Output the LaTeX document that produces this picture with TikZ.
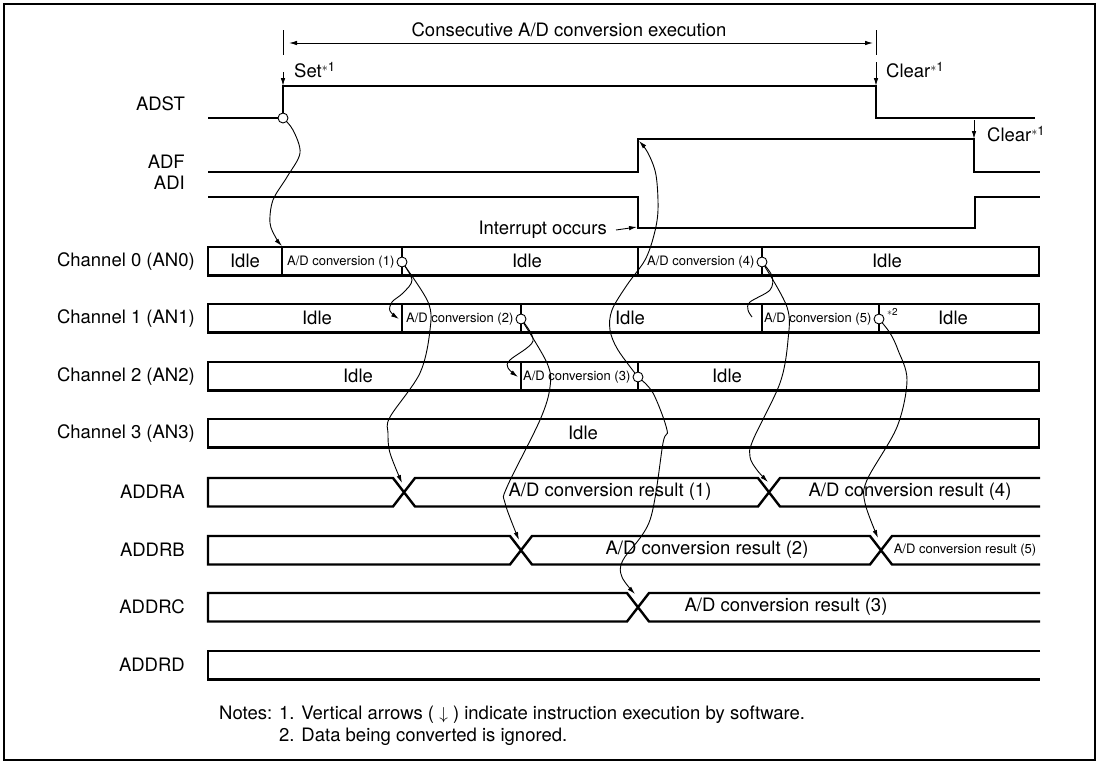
\documentclass[tikz,border=0pt]{standalone}
\usepackage{fontspec}
\setmainfont{TeX Gyre Heros}
\usetikzlibrary{arrows.meta,positioning,math}

\tikzset{
 sig/.style={line width=2.4pt},
 wire/.style={line width=0.9pt,-{Latex[length=8pt,width=4.5pt]}},
 bare/.style={line width=0.9pt},
 dot/.style={circle,draw,fill=white,line width=0.9pt,inner sep=0pt,minimum size=10pt},
 big/.style={font=\fontsize{18.5}{22}\selectfont,inner sep=1pt},
 small/.style={font=\fontsize{13}{15}\selectfont,inner sep=1pt},
 idle/.style={big,fill=white},
}

\begin{document}
\begin{tikzpicture}[x=1pt,y=-1pt]

\useasboundingbox (0,0) rectangle (1100,764);
\draw[line width=2.5pt] (4,4) rectangle (1095,760);

\tikzmath{
\xl = 208;
\xr = 1040;
\h = 28.5;
}

%circles and arrow ends
\coordinate (s0) at (283,118);
\coordinate (c1) at (402,262);
\coordinate (c2) at (521,319);
\coordinate (c3) at (638,377);
\coordinate (c4) at (762,262);
\coordinate (c5) at (879,319);

\coordinate (t0) at (282,246);
\coordinate (t1) at (399,319);
\coordinate (t2) at (402,483);
\coordinate (t3) at (518,377);
\coordinate (t4) at (519,540);
\coordinate (t5) at (639,141);
\coordinate (t6) at (635,594);
\coordinate (e1) at (752,317);
\coordinate (t7) at (768,482);
\coordinate (t8) at (878,538);

%curved arrows
\draw[wire] plot [smooth,tension=0.55] coordinates {(s0) (293,130) (300,153) (287,177) (273,200) (270,223) (276,238) (t0)};
\draw[wire] plot [smooth,tension=0.55] coordinates {(c1) (412,280) (403,293) (392,302) (390,311) (t1)};
\draw[wire] plot [smooth,tension=0.55] coordinates {(c1) (428,302) (430,330) (420,373) (390,417) (388,433) (390,453) (t2)};
\draw[wire] plot [smooth,tension=0.55] coordinates {(c2) (533,341) (510,360) (508,368) (t3)};
\draw[wire] plot [smooth,tension=0.55] coordinates {(c2) (547,363) (550,387) (540,420) (507,487) (505,503) (t4)};
\draw[wire] plot [smooth,tension=0.55] coordinates {(c3) (618,350) (610,330) (612,310) (627,285) (645,260) (654,235) (658,210) (656,175) (648,153) (t5)};
\draw[wire] plot [smooth,tension=0.55] coordinates {(c3) (653,393) (667,430) (663,443) (650,520) (623,560) (622,577) (t6)};
\draw[bare] plot [smooth,tension=0.55] coordinates {(c4) (772,276) (770,290) (750,302) (748,310) (e1)};
\draw[wire] plot [smooth,tension=0.55] coordinates {(c4) (787,307) (788,340) (780,383) (753,440) (750,457) (757,470) (t7)};
\draw[wire] plot [smooth,tension=0.55] coordinates {(c5) (890,333) (898,350) (907,380) (897,427) (867,480) (865,503) (t8)};

%ADST, ADF, ADI
\draw[sig] (\xl,118) -- (283,118) -- (283,86) -- (876,86) -- (876,118) -- (1035,118);
\draw[sig] (\xl,172) -- (638,172) -- (638,139) -- (974,139) -- (974,172) -- (\xr,172);
\draw[sig] (\xl,197) -- (638,197) -- (638,228) -- (975,228) -- (975,197) -- (\xr,197);

%channels
\foreach \t in {247,304,362,419}
  \draw[sig] (\xl,\t) rectangle (1039,\t+\h);
\foreach \x in {282,402,638,762}
  \draw[sig] (\x,247) -- ++(0,\h);
\foreach \x in {402,521,762,879}
  \draw[sig] (\x,304) -- ++(0,\h);
\foreach \x in {521,638}
  \draw[sig] (\x,362) -- ++(0,\h);

%result registers
\draw[sig] (\xr,478) -- (780,478) -- (758,506.5) -- (415,506.5) -- (393,478) -- (\xl,478) -- (\xl,506.5) -- (393,506.5) -- (415,478) -- (758,478) -- (780,506.5) -- (\xr,506.5);
\draw[sig] (\xr,536) -- (892,536) -- (870,564.5) -- (532,564.5) -- (510,536) -- (\xl,536) -- (\xl,564.5) -- (510,564.5) -- (532,536) -- (870,536) -- (892,564.5) -- (\xr,564.5);
\draw[sig] (\xr,593) -- (649,593) -- (627,621.5) -- (\xl,621.5) -- (\xl,593) -- (627,593) -- (649,621.5) -- (\xr,621.5);
\draw[sig] (\xr,651) -- (\xl,651) -- (\xl,679.5) -- (\xr,679.5);

\node[dot] (o0) at (s0) {};
\node[dot] (o1) at (c1) {};
\node[dot] (o2) at (c2) {};
\node[dot] (o3) at (c3) {};
\node[dot] (o4) at (c4) {};
\node[dot] (o5) at (c5) {};

%signal names
\node[big,anchor=east] (nadst) at (186,104) {ADST};
\node[big,anchor=east] (nadf) at (186,162) {ADF};
\node[big,anchor=east] (nadi) at (186,183) {ADI};
\node[big,anchor=east] (nch0) at (196,262) {Channel 0 (AN0)};
\node[big,anchor=east] (nch1) at (196,319) {Channel 1 (AN1)};
\node[big,anchor=east] (nch2) at (196,377) {Channel 2 (AN2)};
\node[big,anchor=east] (nch3) at (196,434) {Channel 3 (AN3)};
\node[big,anchor=east] (nra) at (186,492) {ADDRA};
\node[big,anchor=east] (nrb) at (186,550) {ADDRB};
\node[big,anchor=east] (nrc) at (186,607) {ADDRC};
\node[big,anchor=east] (nrd) at (186,665) {ADDRD};

%box texts
\node[idle] (i00) at (245,261) {Idle};
\node[idle] (i01) at (527,261) {Idle};
\node[idle] (i02) at (887,261) {Idle};
\node[idle] (i10) at (317,318) {Idle};
\node[idle] (i11) at (630,318) {Idle};
\node[idle] (i12) at (953,318) {Idle};
\node[idle] (i20) at (358,376) {Idle};
\node[idle] (i21) at (727,376) {Idle};
\node[idle] (i30) at (583,433) {Idle};

\node[small,left=1pt of o1] (v1) {A/D conversion (1)};
\node[small,left=1pt of o2] (v2) {A/D conversion (2)};
\node[small,left=1pt of o3] (v3) {A/D conversion (3)};
\node[small,left=1pt of o4] (v4) {A/D conversion (4)};
\node[small,left=1pt of o5] (v5) {A/D conversion (5)};
\node[font=\fontsize{10}{12}\selectfont,inner sep=0pt,anchor=west] (ast) at (887,312) {$\ast$2};

\node[big] (r1) at (610,492) {A/D conversion result (1)};
\node[big] (r4) at (910,492) {A/D conversion result (4)};
\node[big] (r2) at (707,550) {A/D conversion result (2)};
\node[small] (r5) at (965,550) {A/D conversion result (5)};
\node[big] (r3) at (786,607) {A/D conversion result (3)};

%top: execution span and software arrows
\coordinate (dl) at (289,43);
\coordinate (dr) at (873,43);
\draw[bare] (283,30) -- (283,55);
\draw[bare] (876,30) -- (876,55);
\draw[bare,{Latex[length=8pt,width=4.5pt]}-{Latex[length=8pt,width=4.5pt]}] (dl) -- (dr);
\node[big] (span) at (569,30) {Consecutive A/D conversion execution};

\coordinate (set) at (283,72);
\coordinate (clr) at (876,62);
\coordinate (clrf) at (974,120);
\draw[wire] (set) -- (283,86);
\draw[wire] (clr) -- (876,86);
\draw[wire] (clrf) -- (974,139);
\node[big,anchor=west] (lset) at (293,70) {Set\textsuperscript{$\ast$1}};
\node[big,anchor=west] (lclr) at (885,70) {Clear\textsuperscript{$\ast$1}};
\node[big,anchor=west] (lclrf) at (986,134) {Clear\textsuperscript{$\ast$1}};

\node[big,anchor=east] (intr) at (608,230) {Interrupt occurs};
\coordinate (ifall) at (637,227);
\draw[wire] ([xshift=8pt]intr.east) -- (ifall);

%notes
\node[big,anchor=west] (note1) at (218,715) {Notes: 1. Vertical arrows ( $\downarrow$ ) indicate instruction execution by software.};
\node[big,anchor=west] (note2) at (278,737) {2. Data being converted is ignored.};

\end{tikzpicture}
\end{document}
